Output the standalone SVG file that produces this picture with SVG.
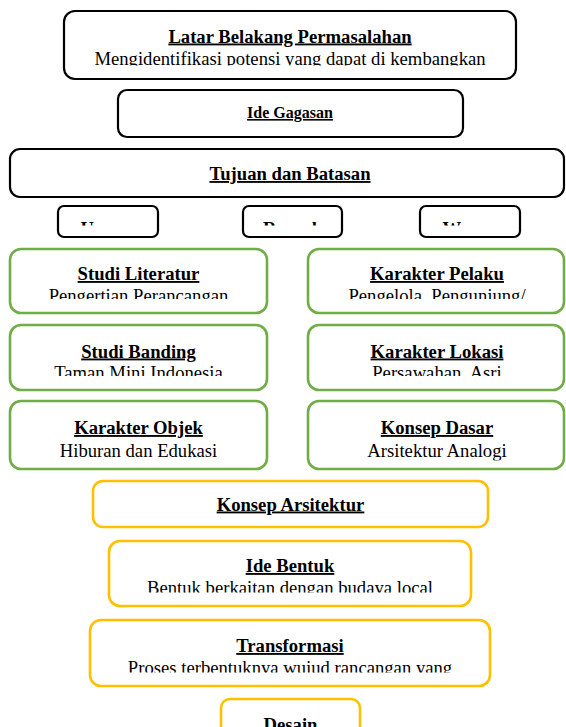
<svg xmlns="http://www.w3.org/2000/svg" width="566" height="727" viewBox="0 0 566 727">
<style>
.t{font-family:"Liberation Serif","Times New Roman",serif;font-size:18.67px;fill:#000;text-anchor:middle}
.b{font-weight:bold;text-decoration:underline}
.k{fill:#fff;stroke:#000;stroke-width:2.2}
.g{fill:#fff;stroke:#70AD47;stroke-width:2.6}
.y{fill:#fff;stroke:#FFC000;stroke-width:2.6}
</style>
<defs>
<clipPath id="cA"><rect x="64" y="11" width="452" height="54.5"/></clipPath>
<clipPath id="cS"><rect x="0" y="206" width="566" height="19.5"/></clipPath>
<clipPath id="cR1"><rect x="0" y="249" width="566" height="50"/></clipPath>
<clipPath id="cR2"><rect x="0" y="325" width="566" height="51"/></clipPath>
<clipPath id="cR3"><rect x="0" y="401" width="566" height="59.5"/></clipPath>
<clipPath id="cIB"><rect x="109" y="541" width="362" height="51.5"/></clipPath>
<clipPath id="cTR"><rect x="90" y="620" width="400" height="52.5"/></clipPath>
</defs>
<g id="latar">
<rect class="k" x="64" y="11" width="452" height="68" rx="11"/>
<text class="t b" x="290" y="42.5">Latar Belakang Permasalahan</text>
<text class="t" x="290" y="64.5" clip-path="url(#cA)">Mengidentifikasi potensi yang dapat di kembangkan</text>
</g>
<g id="ide-gagasan">
<rect class="k" x="118" y="90" width="345" height="47" rx="9"/>
<text class="t b" x="290" y="118" style="font-size:16px">Ide Gagasan</text>
</g>
<g id="tujuan">
<rect class="k" x="10" y="149" width="554" height="48" rx="10"/>
<text class="t b" x="290" y="180">Tujuan dan Batasan</text>
</g>
<g id="umum">
<rect class="k" x="58" y="206" width="100" height="31" rx="6"/>
<text class="t" x="108" y="234.6" style="font-weight:bold" clip-path="url(#cS)">Umum</text>
</g>
<g id="rumah">
<rect class="k" x="243" y="206" width="99" height="31" rx="6"/>
<text class="t" x="292.5" y="234.6" style="font-weight:bold" clip-path="url(#cS)">Rumah</text>
</g>
<g id="warna">
<rect class="k" x="420" y="206" width="100" height="31" rx="6"/>
<text class="t" x="470" y="234.6" style="font-weight:bold" clip-path="url(#cS)">Warna</text>
</g>
<g id="studi-literatur">
<rect class="g" x="10" y="249" width="257" height="64" rx="11"/>
<text class="t b" x="138.5" y="280">Studi Literatur</text>
<text class="t" x="138.5" y="301.5" clip-path="url(#cR1)">Pengertian Perancangan</text>
</g>
<g id="karakter-pelaku">
<rect class="g" x="308" y="249" width="256" height="64" rx="11"/>
<text class="t b" x="437" y="280">Karakter Pelaku</text>
<text class="t" x="437" y="301.5" clip-path="url(#cR1)">Pengelola, Pengunjung/</text>
</g>
<g id="studi-banding">
<rect class="g" x="10" y="325" width="257" height="65" rx="11"/>
<text class="t b" x="138.5" y="357.5">Studi Banding</text>
<text class="t" x="138.5" y="379" clip-path="url(#cR2)">Taman Mini Indonesia</text>
</g>
<g id="karakter-lokasi">
<rect class="g" x="308" y="325" width="256" height="65" rx="11"/>
<text class="t b" x="437" y="357.5">Karakter Lokasi</text>
<text class="t" x="437" y="379" clip-path="url(#cR2)">Persawahan, Asri</text>
</g>
<g id="karakter-objek">
<rect class="g" x="10" y="401" width="257" height="68" rx="11"/>
<text class="t b" x="138.5" y="434">Karakter Objek</text>
<text class="t" x="138.5" y="456.5" clip-path="url(#cR3)">Hiburan dan Edukasi</text>
</g>
<g id="konsep-dasar">
<rect class="g" x="308" y="401" width="256" height="68" rx="11"/>
<text class="t b" x="437" y="434">Konsep Dasar</text>
<text class="t" x="437" y="456.5" clip-path="url(#cR3)">Arsitektur Analogi</text>
</g>
<g id="konsep-arsitektur">
<rect class="y" x="93" y="481" width="395" height="46" rx="10"/>
<text class="t b" x="290.5" y="510.5">Konsep Arsitektur</text>
</g>
<g id="ide-bentuk">
<rect class="y" x="109" y="541" width="362" height="65" rx="11"/>
<text class="t b" x="290" y="572">Ide Bentuk</text>
<text class="t" x="290" y="593.5" clip-path="url(#cIB)">Bentuk berkaitan dengan budaya local</text>
</g>
<g id="transformasi">
<rect class="y" x="90" y="620" width="400" height="66" rx="11"/>
<text class="t b" x="290" y="652">Transformasi</text>
<text class="t" x="290" y="673.5" clip-path="url(#cTR)">Proses terbentuknya wujud rancangan yang</text>
</g>
<g id="desain">
<rect class="y" x="221" y="699" width="139" height="50" rx="9"/>
<text class="t b" x="290.5" y="730.5">Desain</text>
</g>
<g id="connectors"></g>
</svg>
